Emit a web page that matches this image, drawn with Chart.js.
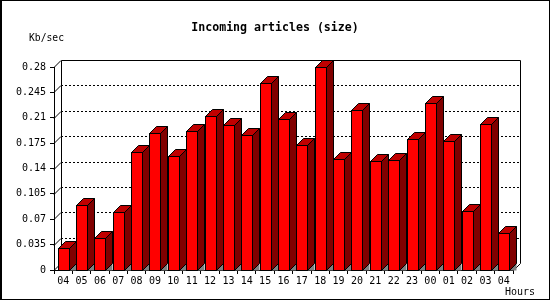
<!DOCTYPE html>
<html>
<head>
    <title>Incoming articles (size)</title>
    <script src="https://cdn.jsdelivr.net/npm/chart.js"></script>
    <style>
        body { margin: 0; background: #fff; }
    </style>
</head>
<body>
    <canvas id="myChart" width="550" height="300"></canvas>
    <script>
        const hours = ['04', '05', '06', '07', '08', '09', '10', '11', '12', '13', '14', '15', '16',
                       '17', '18', '19', '20', '21', '22', '23', '00', '01', '02', '03', '04'];
        const kbPerSec = [0.030, 0.089, 0.044, 0.080, 0.163, 0.189, 0.157, 0.192, 0.212, 0.200,
                          0.186, 0.258, 0.208, 0.172, 0.280, 0.153, 0.221, 0.150, 0.152, 0.181,
                          0.230, 0.178, 0.081, 0.201, 0.051];
        const yTickLabels = ['0', '0.035', '0.07', '0.105', '0.14', '0.175', '0.21', '0.245', '0.28'];

        const DEPTH = 7;

        // back wall, dotted grid and the little slanted ticks on the left wall
        const backWall = {
            id: 'backWall',
            beforeDatasetsDraw(chart) {
                const ctx = chart.ctx;
                const a = chart.chartArea;
                const y = chart.scales.y;
                ctx.save();
                ctx.strokeStyle = '#000';
                ctx.lineWidth = 1;

                ctx.setLineDash([2, 2]);
                y.ticks.forEach((t, i) => {
                    if (i === 0 || i === y.ticks.length - 1) return;
                    const py = Math.round(y.getPixelForValue(t.value)) - DEPTH + 0.5;
                    ctx.beginPath();
                    ctx.moveTo(a.left + DEPTH, py);
                    ctx.lineTo(a.right + DEPTH, py);
                    ctx.stroke();
                });
                ctx.setLineDash([]);

                y.ticks.forEach((t) => {
                    const py = Math.round(y.getPixelForValue(t.value)) + 0.5;
                    ctx.beginPath();
                    ctx.moveTo(a.left, py);
                    ctx.lineTo(a.left + DEPTH, py - DEPTH);
                    ctx.stroke();
                });

                const top = Math.round(a.top) - DEPTH + 0.5;
                const bot = Math.round(a.bottom) - DEPTH + 0.5;
                const l = Math.round(a.left) + DEPTH + 0.5;
                const r = Math.round(a.right) + DEPTH + 0.5;
                ctx.beginPath();
                ctx.moveTo(l, bot);
                ctx.lineTo(l, top);
                ctx.lineTo(r, top);
                ctx.lineTo(r, bot);
                ctx.lineTo(r - DEPTH, bot + DEPTH);
                ctx.stroke();
                ctx.restore();
            }
        };

        // top and side faces of each bar
        const bars3d = {
            id: 'bars3d',
            afterDatasetsDraw(chart) {
                const ctx = chart.ctx;
                const meta = chart.getDatasetMeta(0);
                ctx.save();
                ctx.strokeStyle = '#000';
                ctx.lineWidth = 1;
                meta.data.forEach((bar) => {
                    const L = Math.round(bar.x - bar.width / 2) + 0.5;
                    const R = Math.round(bar.x + bar.width / 2) + 0.5;
                    const T = Math.round(bar.y) + 0.5;
                    const B = Math.round(bar.base) + 0.5;

                    ctx.fillStyle = '#808080';
                    ctx.beginPath();
                    ctx.moveTo(R, B);
                    ctx.lineTo(R + DEPTH, B - DEPTH);
                    ctx.lineTo(R + DEPTH, B);
                    ctx.closePath();
                    ctx.fill();

                    ctx.fillStyle = '#800000';
                    ctx.beginPath();
                    ctx.moveTo(R, T);
                    ctx.lineTo(R + DEPTH, T - DEPTH);
                    ctx.lineTo(R + DEPTH, B - DEPTH);
                    ctx.lineTo(R, B);
                    ctx.closePath();
                    ctx.fill();
                    ctx.stroke();

                    ctx.fillStyle = '#c00000';
                    ctx.beginPath();
                    ctx.moveTo(L, T);
                    ctx.lineTo(L + DEPTH, T - DEPTH);
                    ctx.lineTo(R + DEPTH, T - DEPTH);
                    ctx.lineTo(R, T);
                    ctx.closePath();
                    ctx.fill();
                    ctx.stroke();

                    ctx.fillStyle = '#ff0000';
                    ctx.fillRect(L, T, R - L, B - T);
                    ctx.strokeRect(L, T, R - L, B - T);
                });
                ctx.restore();
            }
        };

        // titles and frame
        const texts = {
            id: 'texts',
            afterDraw(chart) {
                const ctx = chart.ctx;
                ctx.save();
                ctx.fillStyle = '#000';
                ctx.textBaseline = 'middle';
                ctx.font = 'bold 11.6px "DejaVu Sans Mono"';
                ctx.textAlign = 'center';
                ctx.fillText('Incoming articles (size)', 275, 28);
                ctx.font = '9.7px "DejaVu Sans Mono"';
                ctx.textAlign = 'left';
                ctx.fillText('Kb/sec', 29, 38);
                ctx.font = '10px "DejaVu Sans Mono"';
                ctx.textAlign = 'right';
                ctx.fillText('Hours', 535, 292);

                ctx.strokeStyle = '#000';
                ctx.lineWidth = 1;
                ctx.strokeRect(0.5, 0.5, 549, 299);
                ctx.fillRect(0, 0, 2, 300);
                ctx.restore();
            }
        };

        Chart.defaults.font.family = '"DejaVu Sans Mono"';
        Chart.defaults.font.size = 10;
        Chart.defaults.color = '#000';

        const ctx = document.getElementById('myChart').getContext('2d');
        const myChart = new Chart(ctx, {
            type: 'bar',
            data: {
                labels: hours,
                datasets: [{
                    data: kbPerSec,
                    backgroundColor: 'rgba(0,0,0,0)',
                    borderWidth: 0,
                    barPercentage: 0.6,
                    categoryPercentage: 1.0
                }]
            },
            plugins: [backWall, bars3d, texts],
            options: {
                responsive: false,
                animation: false,
                devicePixelRatio: 1,
                layout: { padding: { left: 0, top: 67, right: 37, bottom: 0 } },
                plugins: {
                    legend: { display: false },
                    tooltip: { enabled: false },
                    title: { display: false }
                },
                scales: {
                    x: {
                        grid: {
                            offset: true,
                            drawOnChartArea: false,
                            tickLength: 4,
                            color: '#000'
                        },
                        border: { display: true, color: '#000' },
                        ticks: { padding: 1, maxRotation: 0, autoSkip: false, color: '#000' },
                        afterFit(scale) { scale.height = 30; }
                    },
                    y: {
                        min: 0,
                        max: 0.28,
                        grid: {
                            drawOnChartArea: false,
                            tickLength: 4,
                            color: '#000'
                        },
                        border: { display: true, color: '#000' },
                        ticks: {
                            stepSize: 0.035,
                            padding: 4,
                            color: '#000',
                            callback: (v, i) => yTickLabels[i]
                        },
                        afterFit(scale) { scale.width = 54; }
                    }
                }
            }
        });
    </script>
</body>
</html>
